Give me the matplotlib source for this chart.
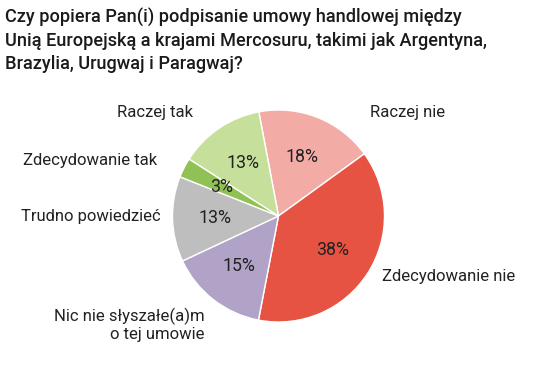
import matplotlib
matplotlib.use("Agg")
import matplotlib.pyplot as plt

plt.rcParams["font.family"] = ["Roboto", "DejaVu Sans"]

labels = ["Raczej nie", "Zdecydowanie nie", "Nic nie słyszałe(a)m\no tej umowie",
          "Trudno powiedzieć", "Zdecydowanie tak", "Raczej tak"]
values = [18, 38, 15, 13, 3, 13]
colors = ["#f3aca5", "#e75342", "#b1a2c8", "#bebebe", "#8fc154", "#c6e09c"]

W, H = 534, 378
fig = plt.figure(figsize=(W / 100, H / 100), dpi=100)
ax = fig.add_axes([0, 0, 1, 1])
ax.set_xlim(0, W)
ax.set_ylim(0, H)
ax.set_axis_off()

cx, cy, r = 278.5, H - 216, 106
wedges, _, pcts = ax.pie(values, colors=colors, startangle=100.7, counterclock=False,
                         center=(cx, cy), radius=r, autopct="%d%%", pctdistance=0.6,
                         wedgeprops=dict(edgecolor="white", linewidth=1),
                         textprops=dict(fontsize=12.8, color="#222222"))
ax.set_xlim(0, W)
ax.set_ylim(0, H)
ax.set_aspect("equal")

# outside label positions (pixels, from top-left)
label_pos = [(370, 112, "left"), (382, 276, "left"), (205, 325, "right"),
             (161, 216, "right"), (157, 160, "right"), (193, 112, "right")]
for lab, (x, y, ha) in zip(labels, label_pos):
    ax.text(x, H - y, lab, ha=ha, va="center", fontsize=12, color="#222222",
            linespacing=1.2)

fig.text(5 / W, 1 - 8 / H,
         "Czy popiera Pan(i) podpisanie umowy handlowej między\n"
         "Unią Europejską a krajami Mercosuru, takimi jak Argentyna,\n"
         "Brazylia, Urugwaj i Paragwaj?",
         ha="left", va="top", fontsize=13.1, color="#1a1a1a", linespacing=1.36,
         fontweight="medium")

fig.savefig("out.png", dpi=100)
